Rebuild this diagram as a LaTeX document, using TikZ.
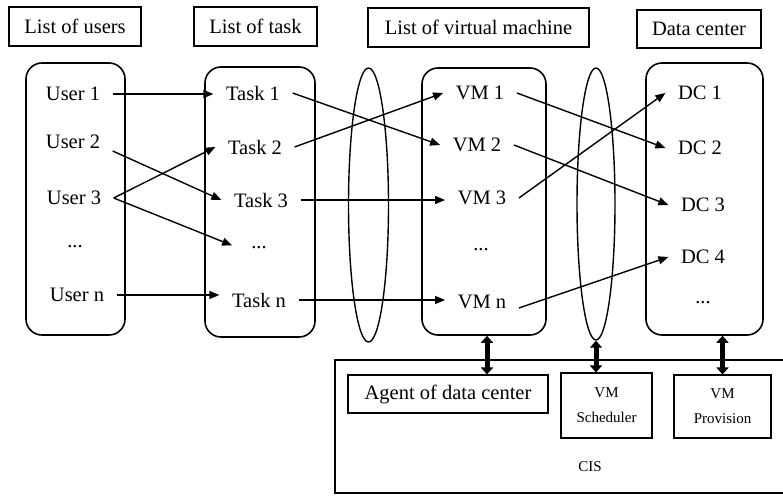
\documentclass[tikz,border=0pt]{standalone}
\usepackage{fontspec}
\setmainfont{Liberation Serif}
\usetikzlibrary{arrows.meta,shapes.geometric}
\begin{document}
\begin{tikzpicture}[x=1pt,y=-1pt,
  big/.style={font=\fontsize{20.5}{24}\selectfont},
  item/.style={big, inner xsep=12.5pt, inner ysep=2pt},
  title/.style={draw, line width=1.1pt, big, inner sep=0pt},
  col/.style={draw, line width=1.6pt, rounded corners=16pt, inner sep=0pt},
  oval/.style={draw, ellipse, line width=1.4pt, inner sep=0pt},
  small/.style={font=\fontsize{15}{25}\selectfont},
  sbox/.style={draw, line width=1.1pt, inner sep=0pt, align=center, small},
  link/.style={line width=1.4pt, -{Triangle[length=10pt,width=8pt]}},
  dbl/.style={line width=5pt, {Triangle[length=7pt,width=12pt]}-{Triangle[length=7pt,width=12pt]}}
]
\useasboundingbox (0,0) rectangle (783,495);

% column titles
\node[title, minimum width=132pt, minimum height=39pt] (hu) at (75,26.5) {List of users};
\node[title, minimum width=123pt, minimum height=39pt] (ht) at (255.5,26.5) {List of task};
\node[title, minimum width=221pt, minimum height=39pt] (hv) at (478.5,27.5) {List of virtual machine};
\node[title, minimum width=124pt, minimum height=38pt] (hd) at (699,29) {Data center};

% column boxes
\node[col, minimum width=99pt, minimum height=272pt] (ubox) at (75.5,199) {};
\node[col, minimum width=110pt, minimum height=270pt] (tbox) at (260,202) {};
\node[col, minimum width=124pt, minimum height=267pt] (vbox) at (484,201.5) {};
\node[col, minimum width=117pt, minimum height=272pt] (dbox) at (704.5,199) {};

% ellipses
\node[oval, minimum width=40pt, minimum height=274pt] (e1) at (368.5,205) {};
\node[oval, minimum width=38pt, minimum height=272pt] (e2) at (596,204) {};

% users
\node[item] (u1) at (73,94) {User 1};
\node[item] (u2) at (73,142) {User 2};
\node[item] (u3) at (74,198) {User 3};
\node[item] (ud) at (75,247) {...};
\node[item] (un) at (77,295) {User n};

% tasks
\node[item] (t1) at (253,93) {Task 1};
\node[item] (t2) at (255,147) {Task 2};
\node[item] (t3) at (261,200) {Task 3};
\node[item] (td) at (259,248) {...};
\node[item] (tn) at (259,300) {Task n};

% VMs
\node[item] (v1) at (480,93) {VM 1};
\node[item] (v2) at (477,145) {VM 2};
\node[item] (v3) at (482,198) {VM 3};
\node[item] (vd) at (481,250) {...};
\node[item] (vn) at (482,302) {VM n};

% DCs
\node[item] (d1) at (700,93) {DC 1};
\node[item] (d2) at (700,148) {DC 2};
\node[item] (d3) at (703,205) {DC 3};
\node[item] (d4) at (703,257) {DC 4};
\node[item] (dd) at (703,303) {...};

% connectors users -> tasks
\draw[link] (u1.east) -- (u1.east -| t1.west);
\draw[link] ([yshift=-9pt]u2.east) -- (t3.west);
\draw[link] (u3.east) -- (t2.west);
\draw[link, shorten >=7pt] (u3.east) -- (td.west);
\draw[link] (un.east) -- (un.east -| tn.west);

% tasks -> VMs
\draw[link] (t1.east) -- (v2.west);
\draw[link] (t2.east) -- (v1.west);
\draw[link] (t3.east) -- (t3.east -| v3.west);
\draw[link] (tn.east) -- (tn.east -| vn.west);

% VMs -> DCs
\draw[link] (v1.east) -- (d2.west);
\draw[link] (v2.east) -- (d3.west);
\draw[link] (v3.east) -- (d1.west);
\draw[link] ([yshift=-6pt]vn.east) -- (d4.west);

% CIS frame
\draw[line width=1.8pt] (783,360) -- (335,360) -- (335,493) -- (783,493);
\node[draw, line width=1.1pt, big, minimum width=200pt, minimum height=38pt, inner sep=0pt] (agent) at (448,394) {Agent of data center};
\node[sbox, minimum width=91pt, minimum height=65pt] (sched) at (606.5,405.5) {VM\\Scheduler};
\node[sbox, minimum width=97pt, minimum height=63pt] (prov) at (722.5,406.5) {VM\\Provision};
\node[small] (cis) at (590,467) {CIS};

% double arrows
\draw[dbl] ([xshift=3pt]vbox.south) -- ([xshift=3pt]vbox.south |- agent.north);
\draw[dbl] (e2.south) -- (e2.south |- sched.north);
\draw[dbl] (prov.north |- dbox.south) -- (prov.north);
\end{tikzpicture}
\end{document}
